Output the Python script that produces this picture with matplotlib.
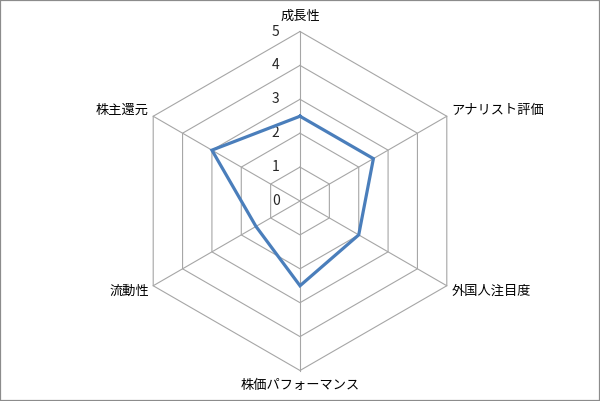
import numpy as np
import matplotlib
matplotlib.use("Agg")
import matplotlib.pyplot as plt

plt.rcParams['font.family'] = ['Noto Sans CJK JP', 'DejaVu Sans']

# --- data ---
categories = ["成長性", "アナリスト評価", "外国人注目度", "株価パフォーマンス", "流動性", "株主還元"]
values = [2.5, 2.5, 2.0, 2.5, 1.5, 3.0]
ticks = [0, 1, 2, 3, 4, 5]

n = len(categories)
# clockwise from top
angles = np.pi / 2 - np.arange(n) * 2 * np.pi / n
ux, uy = np.cos(angles), np.sin(angles)

fig = plt.figure(figsize=(6.0, 4.01), dpi=100)
ax = fig.add_axes([0, 0, 1, 1])
unit = 33.9  # pixels per value unit
ax.set_xlim(-300 / unit, 300 / unit)
ax.set_ylim(-200 / unit, 201 / unit)
ax.set_xticks([])
ax.set_yticks([])
for s in ax.spines.values():
    s.set_color('#8c8c8c')
    s.set_linewidth(1.6)

grid_c = '#a6a6a6'
rmax = ticks[-1]
# rings
for r in ticks[1:]:
    ax.plot(np.append(ux, ux[0]) * r, np.append(uy, uy[0]) * r, color=grid_c, lw=0.8, zorder=1)
# spokes
for i in range(n):
    ax.plot([0, ux[i] * rmax], [0, uy[i] * rmax], color=grid_c, lw=0.8, zorder=1)

# tick labels along top axis
for t in ticks:
    ax.text(-0.6, t, str(t), ha='right', va='center', fontsize=10, color='#262626')

# data polygon
v = np.array(values)
ax.plot(np.append(ux * v, ux[0] * v[0]), np.append(uy * v, uy[0] * v[0]),
        color='#4a7ebb', lw=2.3, solid_joinstyle='miter', zorder=3)

# category labels
lab_r = rmax + 0.15
for i, name in enumerate(categories):
    x, y = ux[i] * lab_r, uy[i] * lab_r
    if abs(ux[i]) < 1e-6:
        ha = 'center'
        va = 'bottom' if uy[i] > 0 else 'top'
        y = uy[i] * (rmax + 0.25)
    else:
        ha = 'left' if ux[i] > 0 else 'right'
        va = 'center'
        y = y + (0.1 if uy[i] > 0 else -0.1)
    ax.text(x, y, name, ha=ha, va=va, fontsize=9.5, color='#000000')

fig.savefig("out.png", dpi=100)
